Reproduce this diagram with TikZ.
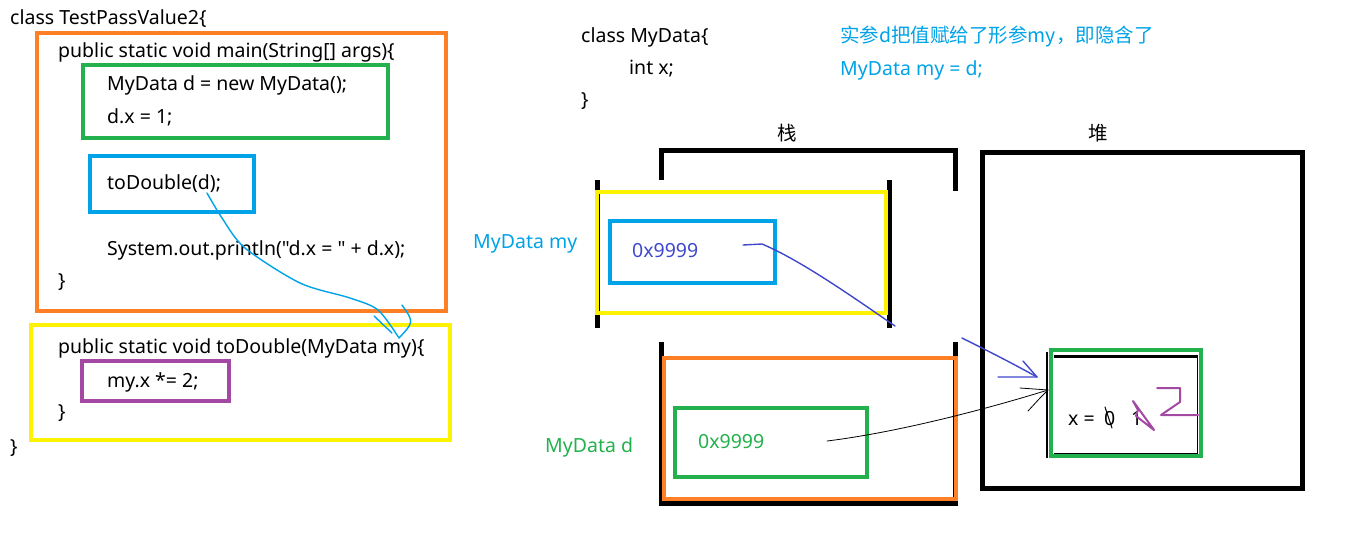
\documentclass[tikz,border=0pt]{standalone}
\usepackage{fontspec}
\setmainfont{Noto Sans}[Ligatures=TeXOff]
\newfontfamily\cjk{Noto Sans CJK SC}
\usetikzlibrary{arrows.meta,positioning,calc}
\definecolor{penorange}{HTML}{FF7F27}
\definecolor{penyellow}{HTML}{FFF200}
\definecolor{pengreen}{HTML}{22B14C}
\definecolor{penblue}{HTML}{00A2E8}
\definecolor{penpurple}{HTML}{A349A4}
\definecolor{penindigo}{HTML}{3F48CC}
\tikzset{
  code/.style    ={anchor=base west,inner sep=0pt,font=\fontsize{19.5}{23}\selectfont},
  cjkcode/.style ={code,font=\cjk\fontsize{19.5}{23}\selectfont},
  frame/.style   ={draw=#1,line width=4.5pt,anchor=north west,inner sep=0pt,outer sep=0pt},
  wall/.style    ={draw=black,line width=5pt},
  scribble/.style={draw=#1,line width=1.4pt,line cap=round,line join=round}
}

\begin{document}
\begin{tikzpicture}[x=1pt,y=-1pt]
  \useasboundingbox (0,0) rectangle (1352,539);
  % code on the left
  \node[frame=penorange,minimum width=409pt,minimum height=278pt] (mainbody) at (37,33) {};
  \node[frame=pengreen,minimum width=305pt,minimum height=73pt] (initbox) at (83,65) {};
  \node[frame=penblue,minimum width=164pt,minimum height=56pt] (callbox) at (90,156) {};
  \node[frame=penyellow,minimum width=419pt,minimum height=115pt] (dblbody) at (31,325) {};
  \node[frame=penpurple,minimum width=147pt,minimum height=40pt] (mulbox) at (82,361) {};
  \node[code] (clsmain) at (10,24) {class TestPassValue2\{};
  \node[code] (mainsig) at (58,57) {public static void main(String[] args)\{};
  \node[code] (newd) at (107,90) {MyData d = new MyData();};
  \node[code] (setx) at (107,123) {d.x = 1;};
  \node[code] (calld) at (107,189) {toDouble(d);};
  \node[code] (printx) at (107,255) {System.out.println("d.x = " + d.x);};
  \node[code] (mainend) at (58,287) {\}};
  \node[code] (dblsig) at (58,353) {public static void toDouble(MyData my)\{};
  \node[code] (mulx) at (107,387) {my.x *= 2;};
  \node[code] (dblend) at (58,418) {\}};
  \node[code] (clsend) at (10,453) {\}};
  % class and note
  \node[code] (clsdata) at (581,42) {class MyData\{};
  \node[code] (fieldx) at (629,74) {int x;};
  \node[code] (dataend) at (581,106) {\}};
  \node[cjkcode,text=penblue] (note) at (840,42) {实参d把值赋给了形参my，即隐含了};
  \node[code,text=penblue] (assign) at (840,75) {MyData my = d;};
  % stack
  \node[cjkcode,anchor=base] (stacklbl) at (787,140) {栈};
  \draw[wall] (661,180) |- (955,150) -- (955,191);
  \draw[wall] (597,180) -- (597,328);
  \draw[wall] (889,180) -- (889,328);
  \node[frame=penyellow,minimum width=289pt,minimum height=121pt] (myframe) at (597,192) {};
  \node[frame=penblue,minimum width=165pt,minimum height=62pt] (mycell) at (610,221) {};
  \node[code,text=penindigo] (myval) at (632,257) {0x9999};
  \node[code,text=penblue] (mylbl) at (473,248) {MyData my};
  \draw[wall] (661,342) |- (955,503) -- (955,342);
  \node[frame=penorange,minimum width=292pt,minimum height=141pt] (dframe) at (664,358) {};
  \node[frame=pengreen,minimum width=192pt,minimum height=69pt] (dcell) at (675,408) {};
  \node[code,text=pengreen] (dval) at (698,448) {0x9999};
  \node[code,text=pengreen] (dlbl) at (545,452) {MyData d};
  % heap
  \node[cjkcode,anchor=base] (heaplbl) at (1098,140) {堆};
  \node[frame=black,line width=5pt,minimum width=320pt,minimum height=336pt] (heap) at (982,152) {};
  \draw[line width=1.5pt] (1047,352) -- (1047,458);
  \node[frame=pengreen,minimum width=150pt,minimum height=106pt] (obj) at (1051,350) {};
  \draw[line width=3pt] (1054,356) -- (1198,356);
  \draw[line width=1pt] (1197,356) |- (1054,453);
  \node[code] (xeq) at (1068,425) {x =};
  \node[code] (oldval) at (1104,425) {0};
  \node[code] (newval) at (1131,425) {1};
  \draw[scribble=black,line width=1pt] (1105,407) -- (1112,428);
  \draw[scribble=penpurple,line width=2pt] (1133,401) -- (1154,430) -- (1136,416) -- (1138,410) -- cycle;
  \draw[scribble=penpurple,line width=2pt] (1157,388) -- (1180,388) -- (1180,402) -- (1161,415) -- (1198,415);
  % hand drawn links
  \coordinate (argd) at (207,193);
  \coordinate (argmy) at (399,338);
  \draw[scribble=penblue] plot[smooth,tension=0.5] coordinates {(argd) (222,218) (245,248) (300,283) (350,298) (378,310) (argmy)};
  \draw[scribble=penblue] (374,316) -- (392,333);
  \draw[scribble=penblue] (402,305) .. controls (414,322) .. (argmy);
  \coordinate (myref) at (743,245);
  \coordinate (mybreak) at (895,326);
  \coordinate (myresume) at (962,338);
  \coordinate (objtipa) at (1037,377);
  \draw[scribble=penindigo] (myref) -- (762,244) .. controls (800,260) and (850,295) .. (mybreak);
  \draw[scribble=penindigo] (myresume) .. controls (990,352) and (1010,362) .. (objtipa);
  \draw[scribble=penindigo] (objtipa) -- (998,377) (objtipa) -- (1023,361);
  \coordinate (dref) at (827,441);
  \coordinate (objtipb) at (1048,390);
  \draw[scribble=black,line width=0.8pt] (dref) .. controls (900,432) and (990,408) .. (objtipb);
  \draw[scribble=black,line width=0.8pt] (objtipb) -- (1020,388) (objtipb) -- (1040,398) -- (1028,411);
\end{tikzpicture}
\end{document}
